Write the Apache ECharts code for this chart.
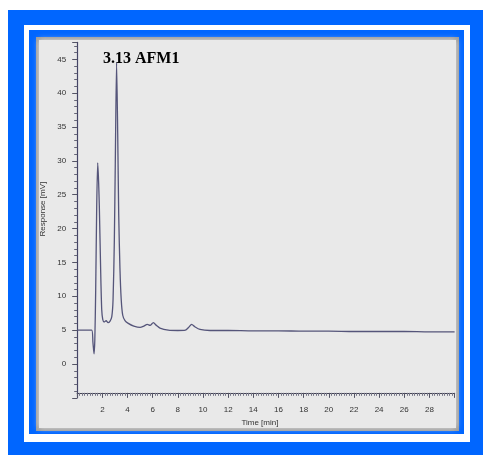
<!DOCTYPE html>
<html>
<head>
<meta charset="utf-8">
<script src="https://cdn.jsdelivr.net/npm/echarts@6/dist/echarts.min.js"></script>
<style>
html,body{margin:0;padding:0;background:#fff;}
#c{width:483px;height:456px;}
</style>
</head>
<body>
<div id="c"></div>
<script>
// Data
const timeMin = [0, 1.15, 1.25, 1.34, 1.4, 1.47, 1.55, 1.63, 1.7, 1.76, 1.87, 1.95, 2.03, 2.15, 2.3, 2.45, 2.6, 2.75, 2.85, 2.95, 3.03, 3.13, 3.22, 3.3, 3.4, 3.5, 3.62, 3.8, 4.06, 4.5, 5.0, 5.3, 5.57, 5.79, 6.05, 6.3, 6.58, 7.24, 8.0, 8.6, 8.85, 9.1, 9.35, 9.76, 10.56, 12, 14, 16, 18, 20, 22, 24, 26, 28, 30];
const responseMv = [5.0, 5.0, 3.2, 1.5, 3.5, 10.9, 23.2, 29.7, 27.0, 23.2, 13.4, 8.0, 6.6, 6.2, 6.4, 6.1, 6.3, 7.0, 9.5, 18.0, 30.0, 44.5, 34.0, 22.0, 14.0, 9.5, 7.2, 6.4, 6.0, 5.6, 5.4, 5.6, 5.85, 5.7, 6.1, 5.7, 5.3, 5.0, 4.95, 5.0, 5.4, 5.85, 5.5, 5.1, 4.95, 4.95, 4.9, 4.9, 4.85, 4.85, 4.8, 4.8, 4.8, 4.75, 4.75];
const xTickLabels = ['2','4','6','8','10','12','14','16','18','20','22','24','26','28'];
const yTickLabels = ['0','5','10','15','20','25','30','35','40','45'];
const peakLabel = '3.13 AFM1';
const xAxisName = 'Time [min]';
const yAxisName = 'Response [mV]';

const chart = echarts.init(document.getElementById('c'), null, {renderer:'canvas'});
const pts = timeMin.map((t,i)=>[t, responseMv[i]]);

chart.setOption({
  backgroundColor:'#ffffff',
  animation:false,
  title:{
    text: peakLabel, left:103, top:51, padding:0,
    textStyle:{fontFamily:'Liberation Serif', fontWeight:'bold', fontSize:16, color:'#000'}
  },
  graphic:[
    {type:'rect', z:-100, shape:{x:8,y:10,width:475,height:445}, style:{fill:'#0066ff'}},
    {type:'rect', z:-99, shape:{x:24,y:25,width:446,height:417}, style:{fill:'#ffffff'}},
    {type:'rect', z:-98, shape:{x:29,y:30,width:435,height:404}, style:{fill:'#0066ff'}},
    {type:'rect', z:-97, shape:{x:36,y:37,width:423,height:394}, style:{fill:'#9a9a9a'}},
    {type:'rect', z:-96, shape:{x:39,y:40,width:417,height:388}, style:{fill:'#e9e9e9', shadowBlur:6, shadowColor:'#e4e4e4'}}
  ],
  grid:{left:77.2, right:28.4, top:42.4, bottom:58.15},
  xAxis:{
    type:'value', min:0, max:30, interval:2,
    offset:-5,
    name:xAxisName, nameLocation:'middle', nameGap:21,
    nameTextStyle:{fontFamily:'Liberation Sans', fontSize:8, color:'#333', padding:[0,12,0,0]},
    axisLine:{onZero:false, lineStyle:{color:'#444455', width:1.2}},
    axisTick:{length:5, lineStyle:{color:'#555566'}},
    minorTick:{show:true, splitNumber:10, length:3, lineStyle:{color:'#777788'}},
    splitLine:{show:false},
    axisLabel:{
      fontFamily:'Liberation Sans', fontSize:8, color:'#333', margin:13,
      showMinLabel:false, showMaxLabel:false,
      formatter:(v)=> xTickLabels.includes(String(v)) ? String(v) : ''
    }
  },
  yAxis:{
    type:'value', min:-5, max:47.5, interval:5,
    name:yAxisName, nameLocation:'middle', nameGap:27, nameRotate:90,
    nameTextStyle:{fontFamily:'Liberation Sans', fontSize:8, color:'#333', padding:[0,0,0,22]},
    axisLine:{onZero:false, lineStyle:{color:'#444466', width:1.2}},
    axisTick:{length:5, lineStyle:{color:'#555566'}},
    minorTick:{show:true, splitNumber:5, length:3, lineStyle:{color:'#666677'}},
    splitLine:{show:false},
    axisLabel:{
      fontFamily:'Liberation Sans', fontSize:8, color:'#333', margin:11,
      showMinLabel:false, showMaxLabel:false,
      formatter:(v)=> yTickLabels.includes(String(v)) ? String(v) : ''
    }
  },
  series:[{
    type:'line', data:pts, showSymbol:false, smooth:0.25,
    lineStyle:{color:'#55557a', width:1.3},
    clip:false
  }]
});
</script>
</body>
</html>
